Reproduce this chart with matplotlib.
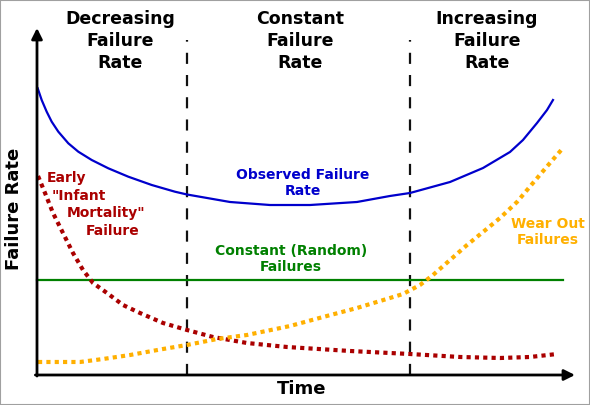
import matplotlib
matplotlib.use("Agg")
import matplotlib.pyplot as plt
from matplotlib.patches import Rectangle

# Bathtub curve, values (time 0..100, rate 0..100)
obs_t = [0.13, 0.87, 1.80, 2.73, 3.96, 5.82, 7.68, 10.17, 13.25, 16.97, 21.32, 25.65,
         27.88, 35.87, 43.31, 50.74, 59.48, 65.61, 69.33, 76.77, 82.90, 87.92, 90.33,
         92.94, 94.80, 95.91]
obs_r = [82.62, 79.25, 75.88, 73.0, 70.12, 66.77, 64.35, 61.96, 59.57, 57.15, 54.76, 52.82,
         52.02, 49.86, 48.99, 48.99, 49.86, 51.59, 52.45, 55.62, 59.65, 64.27, 67.72,
         72.62, 76.37, 79.25]

early_t = [0.19, 1.49, 2.97, 4.83, 6.69, 8.55, 10.41, 13.01, 15.99, 19.14, 23.42,
           27.88, 32.71, 39.03, 46.47, 58.18, 69.33, 78.62, 86.06, 91.64, 96.65]
early_r = [57.35, 52.45, 46.69, 40.92, 35.16, 30.26, 26.51, 23.63, 20.17, 17.87, 14.99,
           12.97, 10.95, 9.22, 8.07, 6.92, 6.05, 5.19, 4.90, 5.19, 6.05]

wear_t = [0.19, 8.0, 12.27, 17.29, 23.42, 27.88, 33.46, 39.03, 47.03, 53.16, 59.48, 65.61,
          68.03, 71.19, 73.61, 76.77, 79.93, 82.90, 86.06, 89.22, 92.19, 95.35, 97.77]
wear_r = [3.75, 3.75, 4.61, 5.76, 7.49, 8.65, 10.37, 11.53, 14.12, 16.71, 19.31, 22.19,
          23.34, 25.94, 28.82, 33.14, 37.46, 41.21, 45.24, 49.86, 55.33, 61.10, 65.42]

const_t = [0, 97.77]
const_r = [27.38, 27.38]

phase_bounds = [27.88, 69.33]
phase_top = 96.5

fig = plt.figure(figsize=(5.9, 4.05), dpi=100)
ax = fig.add_axes([0, 0, 1, 1])
ax.set_xlim(-6.877, 102.79)
ax.set_ylim(-8.646, 108.07)
ax.axis("off")

# frame round the picture
fig.patches.append(Rectangle((0, 0), 1, 1, transform=fig.transFigure,
                             fill=False, edgecolor="#a0a0a0", lw=1.5))

blue = "#0000cc"
red = "#aa0000"
orange = "#ffb000"
green = "#008000"

for b in phase_bounds:
    ax.plot([b, b], [0, phase_top], color="#111111", lw=1.6, dashes=(5, 5))

ax.plot(const_t, const_r, color=green, lw=1.6)
ax.plot(obs_t, obs_r, color=blue, lw=1.6)
ax.plot(early_t, early_r, color=red, lw=3.0, dashes=(1, 1), dash_capstyle="butt")
ax.plot(wear_t, wear_r, color=orange, lw=3.0, dashes=(1, 1), dash_capstyle="butt")

# axes arrows
arrow = dict(arrowstyle="-|>", color="black", lw=2, mutation_scale=16, shrinkA=0, shrinkB=0)
ax.annotate("", xy=(0, 100), xytext=(0, -0.3), arrowprops=arrow)
ax.annotate("", xy=(100, 0), xytext=(-0.3, 0), arrowprops=arrow)


def ftext(px, py, s, **kw):
    fig.text(px / 590, 1 - py / 405, s, fontweight="bold", **kw)


# phase headers
hdr = dict(fontsize=12.5, ha="center", va="center", linespacing=1.3)
ftext(120, 41, "Decreasing\nFailure\nRate", **hdr)
ftext(300, 41, "Constant\nFailure\nRate", **hdr)
ftext(487, 41, "Increasing\nFailure\nRate", **hdr)

# curve labels
lab = dict(fontsize=10, ha="center", va="center", linespacing=1.15)
ftext(303, 183, "Observed Failure\nRate", color=blue, **lab)
ftext(291, 259, "Constant (Random)\nFailures", color=green, **lab)
ftext(548, 232, "Wear Out\nFailures", color=orange, **lab)

for px, py, s in [(47, 178, "Early"), (52, 196, '"Infant'),
                  (67, 213, 'Mortality"'), (86, 231, "Failure")]:
    ftext(px, py, s, color=red, fontsize=10, ha="left", va="center")

ftext(14, 209, "Failure Rate", fontsize=13, rotation=90, ha="center", va="center")
ftext(302, 389, "Time", fontsize=13, ha="center", va="center")

fig.savefig("out.png", dpi=100)
